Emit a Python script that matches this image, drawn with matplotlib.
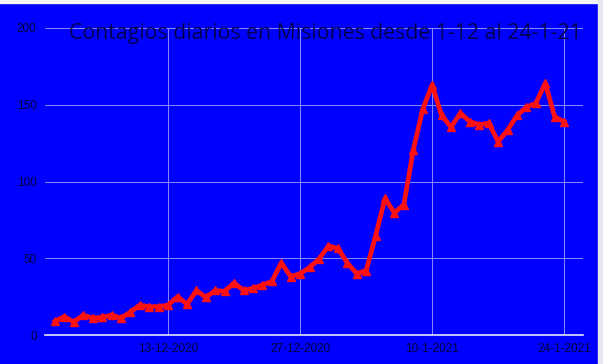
import matplotlib
matplotlib.use("Agg")
import matplotlib.pyplot as plt
from matplotlib.patches import Rectangle
import pandas as pd

title = "Contagios diarios en Misiones desde 1-12 al 24-1-21"
start_date = "2020-12-01"
end_date = "2021-01-24"
cases = [9, 12, 8.5, 13, 11, 11.5, 13, 11, 15, 19.5,
         18.5, 18.5, 19.5, 25, 20, 29, 24.5, 29, 28.5, 34,
         29, 30.5, 32.5, 35, 47, 38, 40, 44, 49.5, 58,
         56.5, 47, 40, 42, 64.5, 89, 79.5, 85, 120.5, 147,
         163, 143, 135.5, 144.5, 139, 137, 138, 126, 133.5, 143,
         148.5, 151, 164, 142, 139]
tick_dates = ["2020-12-13", "2020-12-27", "2021-01-10", "2021-01-24"]
tick_labels = ["13-12-2020", "27-12-2020", "10-1-2021", "24-1-2021"]
y_ticks = [0, 50, 100, 150, 200]

dates = pd.date_range(start_date, end_date, freq="D")

W, H = 603, 364
fig = plt.figure(figsize=(W / 100, H / 100), dpi=100)
fig.patch.set_facecolor("#0000ff")
ax = fig.add_axes([45 / W, 1 - 335 / H, (583 - 45) / W, (335 - 28) / H])
ax.set_facecolor("#0000ff")

ax.plot(dates, cases, color="#ff1010", lw=3.4, marker="^", ms=6,
        mec="#ff1010", mfc="#ff1010", solid_joinstyle="round", zorder=3)

ax.set_ylim(0, 200)
ax.set_xlim(pd.Timestamp(start_date) - pd.Timedelta(days=1.06),
            pd.Timestamp(end_date) + pd.Timedelta(days=2.0))
ax.set_yticks(y_ticks)
ax.set_xticks([pd.Timestamp(d) for d in tick_dates])
ax.set_xticklabels(tick_labels)
ax.grid(True, color="#8a8aff", lw=0.7, zorder=0)
ax.set_axisbelow(True)
for s in ["top", "right", "left"]:
    ax.spines[s].set_visible(False)
ax.spines["bottom"].set_color("#e6e6ff")
ax.spines["bottom"].set_linewidth(1.2)
ax.tick_params(length=0, labelsize=8.5, labelcolor="#000038", pad=6)
for lab in ax.get_xticklabels() + ax.get_yticklabels():
    lab.set_family("Liberation Sans")

fig.text(325 / W, 1 - 34 / H, title, ha="center", va="center",
         fontsize=15.3, color="#000050", family="Open Sans")

# window border strips
fig.patches.append(Rectangle((0, 1 - 3 / H), 1, 3 / H, transform=fig.transFigure,
                             color="#f4f4f4", zorder=10))
fig.patches.append(Rectangle((598 / W, 0), 5 / W, 1, transform=fig.transFigure,
                             color="#e8e8f0", zorder=10))

fig.savefig("out.png", dpi=100, facecolor=fig.get_facecolor())
